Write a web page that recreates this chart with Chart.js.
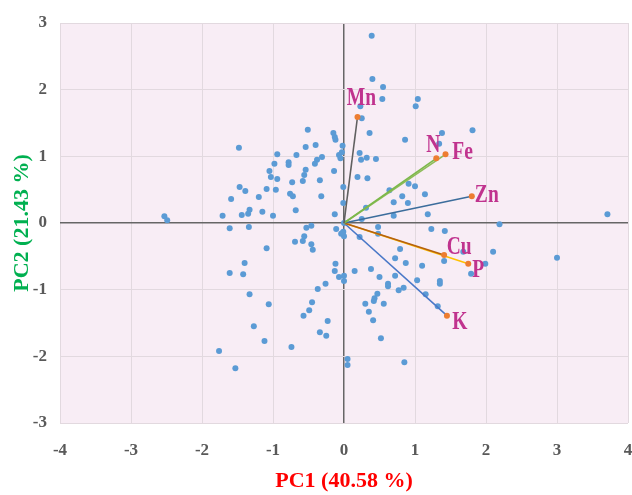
<!DOCTYPE html>
<html>
<head>
<meta charset="utf-8">
<script src="https://cdn.jsdelivr.net/npm/chart.js@4"></script>
<style>
  body { margin: 0; background: #fff; }
  #wrap { width: 632px; height: 495px; }
</style>
</head>
<body>
<div id="wrap"><canvas id="chartCanvas" width="632" height="495"></canvas></div>
<script>
// PCA scores (PC1, PC2)
const scoreX = [
  -2.53, -2.49, -1.48, -0.51, -0.15, -0.13, -0.12, -0.02, -0.40, -0.54,
  -0.94, -0.67, -0.31, -0.38, -0.41, -0.78, -0.78, -0.98, -0.07, -0.03,
  -0.05, -0.54, -0.56, -0.58, -1.05, -1.03, -0.94, -0.73, -0.34, -0.14,
  -1.47, -1.39, -1.09, -0.96, -0.76, -0.72, -0.32, -0.01, -0.01, -1.59,
  -1.20, -0.68, -1.15, -1.00, -1.33, -1.35, -1.44, -1.71, -0.13, -1.61,
  -1.34, -0.53, -0.46, -0.11, 0.00, -0.04, 0.00, -0.01, -0.69, -0.58,
  -0.56, -0.46, -0.44, -1.09, -1.40, -1.61, -1.42, -0.12, -0.13, -0.07,
  0.00, 0.00, -0.26, -0.37, -1.33, -1.06, -0.45, -0.49, -0.57, -0.23,
  -1.27, -0.34, -0.25, -1.12, -0.74, -1.76, -1.53, 0.05, 0.05,
  0.39, 0.40, 0.55, 0.54, 1.04, 1.01, 0.23, 0.25, 0.36, 0.86,
  1.38, 1.81, 1.34, 0.22, 0.24, 0.32, 0.45, 0.19, 0.33, 0.64,
  0.91, 1.00, 0.82, 0.90, 1.14, 0.70, 0.31, 0.70, 1.18, 0.25,
  2.19, 3.71, 0.48, 1.23, 1.42, 0.48, 0.22, 0.79, 0.72, 0.87,
  1.10, 1.41, 1.68, 2.10, 1.99, 1.79, 3.00, 0.15, 0.38, 0.50,
  0.72, 1.03, 1.35, 1.35, 0.62, 0.62, 0.84, 0.77, 1.15, 0.47,
  0.43, 0.42, 0.30, 0.56, 1.32, 0.35, 0.41, 0.52, 0.85, -0.02
];
const scoreY = [
  0.10, 0.04, 1.13, 1.40, 1.35, 1.29, 1.25, 1.16, 1.17, 1.14,
  1.03, 1.02, 0.99, 0.95, 0.89, 0.91, 0.87, 0.89, 1.02, 1.06,
  0.97, 0.80, 0.72, 0.63, 0.78, 0.69, 0.66, 0.61, 0.64, 0.78,
  0.54, 0.48, 0.51, 0.50, 0.44, 0.40, 0.40, 0.54, 0.30, 0.36,
  0.39, 0.19, 0.17, 0.11, 0.20, 0.14, 0.12, 0.11, 0.13, -0.08,
  -0.06, -0.07, -0.04, -0.09, 0.00, -0.16, -0.20, -0.13, -0.28, -0.27,
  -0.20, -0.32, -0.40, -0.38, -0.60, -0.75, -0.77, -0.61, -0.72, -0.81,
  -0.79, -0.87, -0.91, -0.99, -1.07, -1.22, -1.19, -1.31, -1.39, -1.47,
  -1.55, -1.64, -1.69, -1.77, -1.86, -1.92, -2.18, -2.04, -2.13,
  2.81, 2.16, 2.04, 1.86, 1.86, 1.75, 1.75, 1.57, 1.35, 1.25,
  1.35, 1.39, 1.19, 1.05, 0.95, 0.98, 0.96, 0.69, 0.67, 0.49,
  0.59, 0.55, 0.40, 0.30, 0.43, 0.31, 0.23, 0.11, 0.13, 0.06,
  -0.02, 0.13, -0.06, -0.09, -0.12, -0.16, -0.21, -0.39, -0.53, -0.60,
  -0.64, -0.57, -0.43, -0.43, -0.61, -0.76, -0.52, -0.72, -0.69, -0.81,
  -0.79, -0.86, -0.87, -0.91, -0.91, -0.95, -0.97, -1.01, -1.07, -1.06,
  -1.13, -1.17, -1.21, -1.21, -1.25, -1.33, -1.46, -1.73, -2.09, -0.15
];

// Loadings (arrows) for each variable
const variables = ['Mn', 'N', 'Fe', 'Zn', 'Cu', 'P', 'K'];
const loadX = [0.19, 1.30, 1.43, 1.80, 1.41, 1.75, 1.45];
const loadY = [1.59, 0.97, 1.03, 0.40, -0.48, -0.61, -1.39];

const xTicks = [-4, -3, -2, -1, 0, 1, 2, 3, 4];
const yTicks = [-3, -2, -1, 0, 1, 2, 3];

// style only: line colour and label nudge (px) per variable
const lineColors = ['#606060', '#7cb84a', '#8fbc5a', '#3c6d9c', '#b5610f', '#ffc000', '#4a78c8'];
const labelNudge = [[4, -18], [-3, -13], [17, -2], [15, -1], [15, -7], [10, 7], [13, 7]];

const SERIF = '"Liberation Serif", "Times New Roman", serif';

const vectorSets = variables.map((name, i) => ({
    label: name,
    data: [{ x: 0, y: 0 }, { x: loadX[i], y: loadY[i] }],
    showLine: true,
    borderColor: lineColors[i],
    borderWidth: 1.6,
    pointRadius: [0, 3],
    pointBackgroundColor: '#ed7d31',
    pointBorderWidth: 0,
    order: 1
}));

const bgPlugin = {
    id: 'plotBg',
    beforeDraw(chart) {
        const a = chart.chartArea;
        const c = chart.ctx;
        c.save();
        c.fillStyle = '#f8edf5';
        c.fillRect(a.left, a.top, a.right - a.left, a.bottom - a.top);
        c.restore();
    }
};

// vẽ nhãn biến cạnh đầu mũi tên
const labelPlugin = {
    id: 'varLabels',
    afterDatasetsDraw(chart) {
        const c = chart.ctx;
        const sx = chart.scales.x, sy = chart.scales.y;
        c.save();
        c.fillStyle = '#c0338e';
        c.font = 'bold 25px ' + SERIF;
        c.textAlign = 'center';
        c.textBaseline = 'middle';
        variables.forEach((name, i) => {
            const px = sx.getPixelForValue(loadX[i]) + labelNudge[i][0];
            const py = sy.getPixelForValue(loadY[i]) + labelNudge[i][1];
            c.save();
            c.translate(px, py);
            c.scale(0.78, 1);
            c.fillText(name, 0, 0);
            c.restore();
        });
        c.restore();
    }
};

const gridColor = ctx => ctx.tick && ctx.tick.value === 0 ? '#666' : '#e2d9df';
const gridWidth = ctx => ctx.tick && ctx.tick.value === 0 ? 1.5 : 1;

new Chart(document.getElementById('chartCanvas').getContext('2d'), {
    type: 'scatter',
    data: {
        datasets: [
            {
                label: 'Scores',
                data: scoreX.map((x, i) => ({ x: x, y: scoreY[i] })),
                pointRadius: 3,
                pointBackgroundColor: '#5b9bd5',
                pointBorderWidth: 0,
                order: 2
            },
            ...vectorSets
        ]
    },
    options: {
        responsive: false,
        animation: false,
        layout: { padding: { top: 23, right: 4, left: 0, bottom: 0 } },
        plugins: {
            legend: { display: false },
            tooltip: { enabled: false }
        },
        scales: {
            x: {
                type: 'linear',
                min: -4,
                max: 4,
                afterBuildTicks: axis => { axis.ticks = xTicks.map(v => ({ value: v })); },
                afterFit: axis => {
                    axis.height = 72;
                    axis.paddingLeft = 0;
                    axis.paddingRight = 0;
                },
                grid: { color: gridColor, lineWidth: gridWidth, drawTicks: false },
                border: { display: false },
                ticks: {
                    padding: 17,
                    color: '#595959',
                    font: { family: SERIF, size: 17, weight: 'bold' }
                },
                title: {
                    display: true,
                    text: 'PC1 (40.58 %)',
                    color: '#ff0000',
                    font: { family: SERIF, size: 22, weight: 'bold' },
                    padding: { top: 4, bottom: 0 }
                }
            },
            y: {
                type: 'linear',
                min: -3,
                max: 3,
                afterBuildTicks: axis => { axis.ticks = yTicks.map(v => ({ value: v })); },
                afterFit: axis => {
                    axis.width = 60;
                    axis.paddingTop = 0;
                    axis.paddingBottom = 0;
                },
                grid: { color: gridColor, lineWidth: gridWidth, drawTicks: false },
                border: { display: false },
                ticks: {
                    padding: 13,
                    color: '#595959',
                    font: { family: SERIF, size: 17, weight: 'bold' }
                },
                title: {
                    display: true,
                    text: 'PC2 (21.43 %)',
                    color: '#00b050',
                    font: { family: SERIF, size: 22, weight: 'bold' },
                    padding: { top: 9, bottom: 0 }
                }
            }
        }
    },
    plugins: [bgPlugin, labelPlugin]
});
</script>
</body>
</html>
